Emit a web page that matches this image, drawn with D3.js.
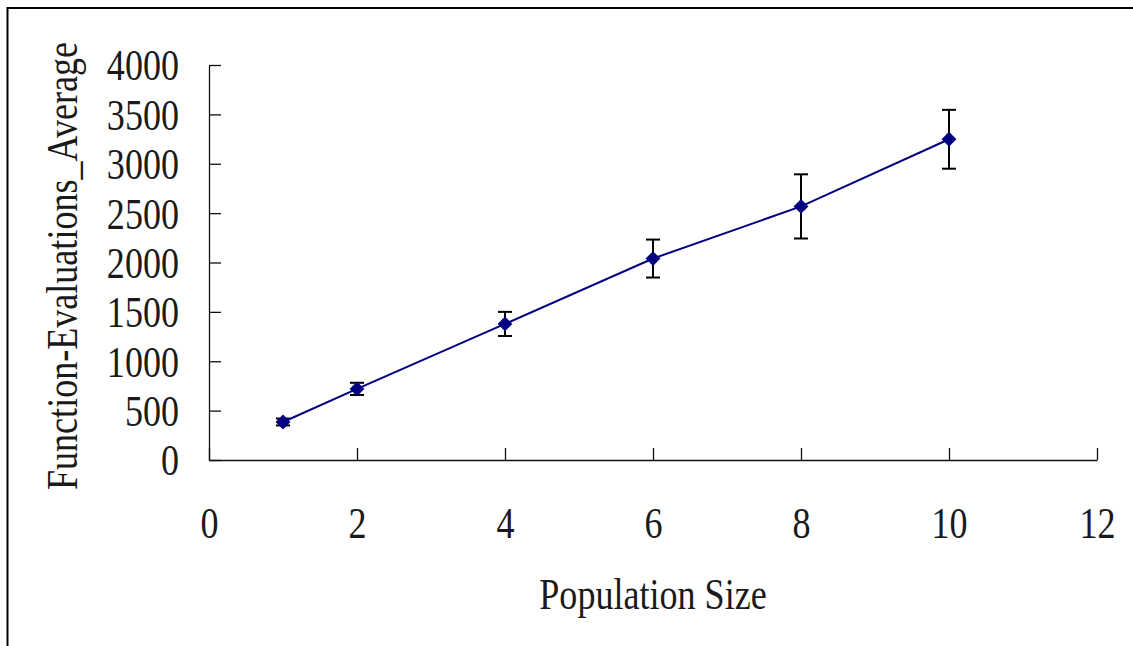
<!DOCTYPE html>
<meta charset="utf-8">
<script src="https://cdn.jsdelivr.net/npm/d3@7"></script>
<style>
  body { margin: 0; background: #fff; }
  text { font-family: "Liberation Serif", "DejaVu Serif", serif; fill: #1a1a1a; }
</style>
<svg id="chart"></svg>
<script>

// data
let pop_size = [1, 2, 4, 6, 8, 10];
let eval_avg = [385, 720, 1378, 2040, 2568, 3248];
let eval_err = [35, 62, 122, 192, 325, 298];
let x_ticks = [0, 2, 4, 6, 8, 10, 12];
let y_ticks = [0, 500, 1000, 1500, 2000, 2500, 3000, 3500, 4000];

let svg = d3.select("#chart"),
    width = 1133,
    height = 646,
    font_px = 44,
    squeeze = 0.82;   // the fonts in the picture are narrower than Times

svg.attr("width", width).attr("height", height);

// outer frame, runs off right and bottom edges
svg.append("rect")
    .attr("x", 7.5).attr("y", 8)
    .attr("width", 1300).attr("height", 1000)
    .attr("fill", "none")
    .attr("stroke", "#000")
    .attr("stroke-width", 2);

let x = d3.scaleLinear().domain([0, 12]).range([209, 1097]);
let y = d3.scaleLinear().domain([0, 4000]).range([460, 65]);

// y axis, ticks pointing inward
let gy = svg.append("g")
    .attr("transform", "translate(" + x(0) + ",0)")
    .call(d3.axisLeft(y).tickValues(y_ticks).tickFormat(d3.format("d"))
      .tickSizeInner(-12).tickSizeOuter(0).tickPadding(0));
gy.selectAll("text")
    .attr("x", -30 / squeeze)
    .attr("dy", "0.34em")
    .attr("transform", "scale(" + squeeze + ",1)")
    .style("font-size", font_px + "px");

// x axis
let gx = svg.append("g")
    .attr("transform", "translate(0," + y(0) + ")")
    .call(d3.axisBottom(x).tickValues(x_ticks).tickFormat(d3.format("d"))
      .tickSizeInner(-12).tickSizeOuter(0).tickPadding(0));
gx.selectAll("text")
    .attr("y", 78)
    .attr("dy", 0)
    .attr("transform", "scale(" + squeeze + ",1)")
    .style("font-size", font_px + "px");

svg.selectAll(".domain, .tick line")
    .attr("stroke", "#111")
    .attr("stroke-width", 1.3);
svg.selectAll(".tick text").attr("fill", "#1a1a1a");

// axis titles
svg.append("text")
    .attr("transform", "translate(77,266) rotate(-90) scale(" + squeeze + ",1)")
    .attr("text-anchor", "middle")
    .style("font-size", font_px + "px")
    .text("Function-Evaluations_Average");

svg.append("text")
    .attr("transform", "translate(653,609) scale(" + squeeze + ",1)")
    .attr("text-anchor", "middle")
    .style("font-size", font_px + "px")
    .text("Population Size");

let pts = pop_size.map(function(d, i) {
  return { x: d, y: eval_avg[i], e: eval_err[i] };
});

// error bars
let eb = svg.append("g").attr("stroke", "#000").attr("stroke-width", 2);
eb.selectAll("line.stem")
  .data(pts).enter().append("line")
    .attr("x1", d => x(d.x)).attr("x2", d => x(d.x))
    .attr("y1", d => y(d.y - d.e)).attr("y2", d => y(d.y + d.e));
eb.selectAll("line.top")
  .data(pts).enter().append("line")
    .attr("x1", d => x(d.x) - 7).attr("x2", d => x(d.x) + 7)
    .attr("y1", d => y(d.y + d.e)).attr("y2", d => y(d.y + d.e));
eb.selectAll("line.bot")
  .data(pts).enter().append("line")
    .attr("x1", d => x(d.x) - 7).attr("x2", d => x(d.x) + 7)
    .attr("y1", d => y(d.y - d.e)).attr("y2", d => y(d.y - d.e));

// the series line
svg.append("path")
    .datum(pts)
    .attr("fill", "none")
    .attr("stroke", "#000080")
    .attr("stroke-width", 2)
    .attr("d", d3.line().x(d => x(d.x)).y(d => y(d.y)));

// diamond markers
svg.append("g")
  .selectAll("path")
  .data(pts).enter().append("path")
    .attr("transform", d => "translate(" + x(d.x) + "," + y(d.y) + ") rotate(45)")
    .attr("d", d3.symbol().type(d3.symbolSquare).size(110))
    .attr("fill", "#000080");

</script>
